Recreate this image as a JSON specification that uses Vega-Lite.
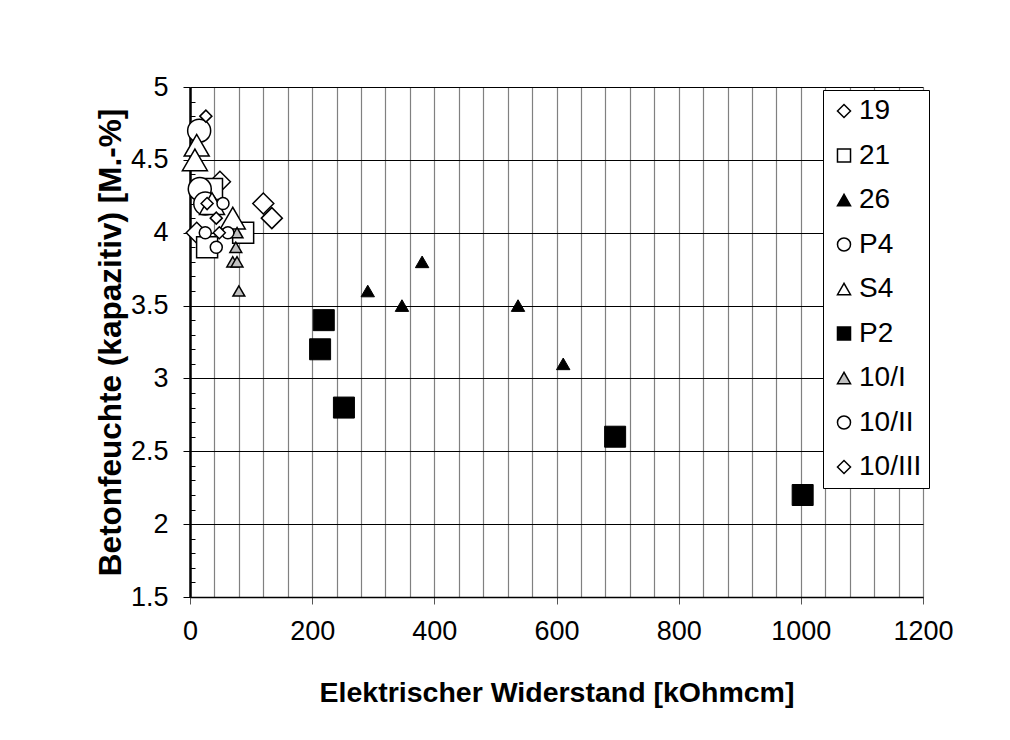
{
  "$schema": "https://vega.github.io/schema/vega-lite/v6.json",
  "width": 733,
  "height": 510,
  "autosize": "none",
  "padding": {"left": 190, "top": 87, "right": 87, "bottom": 143},
  "background": "white",
  "config": {
    "font": "Liberation Sans",
    "view": {"stroke": null},
    "legend": {
      "orient": "none",
      "legendX": 633,
      "legendY": 3,
      "strokeColor": "black",
      "fillColor": "white",
      "padding": 7,
      "labelFont": "Liberation Sans",
      "labelFontSize": 28,
      "labelColor": "black",
      "rowPadding": 16.5,
      "symbolStrokeWidth": 1.5,
      "symbolSize": 170,
      "labelOffset": 1
    }
  },
  "data": {
    "values": [
      {"Serie": "19", "R": 11, "F": 4.0},
      {"Serie": "19", "R": 49, "F": 4.35},
      {"Serie": "19", "R": 120, "F": 4.2},
      {"Serie": "19", "R": 134, "F": 4.1},
      {"Serie": "21", "R": 36, "F": 4.3},
      {"Serie": "21", "R": 28, "F": 3.9},
      {"Serie": "21", "R": 87, "F": 4.0},
      {"Serie": "26", "R": 291, "F": 3.6},
      {"Serie": "26", "R": 347, "F": 3.5},
      {"Serie": "26", "R": 380, "F": 3.8},
      {"Serie": "26", "R": 537, "F": 3.5},
      {"Serie": "26", "R": 611, "F": 3.1},
      {"Serie": "P4", "R": 15, "F": 4.7},
      {"Serie": "P4", "R": 16, "F": 4.3},
      {"Serie": "P4", "R": 25, "F": 4.2},
      {"Serie": "S4", "R": 11, "F": 4.6},
      {"Serie": "S4", "R": 8, "F": 4.5},
      {"Serie": "S4", "R": 70, "F": 4.1},
      {"Serie": "S4", "R": 36, "F": 4.2},
      {"Serie": "P2", "R": 219, "F": 3.4},
      {"Serie": "P2", "R": 213, "F": 3.2},
      {"Serie": "P2", "R": 252, "F": 2.8},
      {"Serie": "P2", "R": 696, "F": 2.6},
      {"Serie": "P2", "R": 1003, "F": 2.2},
      {"Serie": "10/I", "R": 77, "F": 4.0},
      {"Serie": "10/I", "R": 75, "F": 3.9},
      {"Serie": "10/I", "R": 70, "F": 3.8},
      {"Serie": "10/I", "R": 77, "F": 3.8},
      {"Serie": "10/I", "R": 80, "F": 3.6},
      {"Serie": "10/II", "R": 54, "F": 4.2},
      {"Serie": "10/II", "R": 25, "F": 4.0},
      {"Serie": "10/II", "R": 62, "F": 4.0},
      {"Serie": "10/II", "R": 43, "F": 3.9},
      {"Serie": "10/III", "R": 26, "F": 4.8},
      {"Serie": "10/III", "R": 28, "F": 4.2},
      {"Serie": "10/III", "R": 43, "F": 4.1},
      {"Serie": "10/III", "R": 48, "F": 4.0}
    ]
  },
  "encoding": {
    "x": {
      "field": "R",
      "type": "quantitative",
      "scale": {"domain": [0, 1200], "nice": false},
      "axis": {
        "title": "Elektrischer Widerstand [kOhmcm]",
        "titleFont": "Liberation Sans",
        "titleFontSize": 28.5,
        "titleFontWeight": "bold",
        "titleColor": "black",
        "titlePadding": 34,
        "values": [0, 40, 80, 120, 160, 200, 240, 280, 320, 360, 400, 440, 480, 520, 560, 600, 640, 680, 720, 760, 800, 840, 880, 920, 960, 1000, 1040, 1080, 1120, 1160, 1200],
        "format": "d",
        "labelExpr": "datum.value % 200 === 0 ? datum.label : ''",
        "labelFont": "Liberation Sans",
        "labelFontSize": 27,
        "labelColor": "black",
        "labelPadding": 14,
        "labelFlush": false,
        "labelOverlap": false,
        "tickSize": 7,
        "tickColor": "#555555",
        "tickOpacity": {"condition": {"test": "datum.value % 200 === 0", "value": 1}, "value": 0},
        "grid": true,
        "gridColor": "#808080",
        "gridWidth": 1.2,
        "domainColor": "black",
        "domainWidth": 1.5
      }
    },
    "y": {
      "field": "F",
      "type": "quantitative",
      "scale": {"domain": [1.5, 5], "nice": false, "zero": false},
      "axis": {
        "title": "Betonfeuchte (kapazitiv) [M.-%]",
        "titleFont": "Liberation Sans",
        "titleFontSize": 31.5,
        "titleFontWeight": "bold",
        "titleColor": "black",
        "titlePadding": 3,
        "values": [1.5, 1.6, 1.7, 1.8, 1.9, 2, 2.1, 2.2, 2.3, 2.4, 2.5, 2.6, 2.7, 2.8, 2.9, 3, 3.1, 3.2, 3.3, 3.4, 3.5, 3.6, 3.7, 3.8, 3.9, 4, 4.1, 4.2, 4.3, 4.4, 4.5, 4.6, 4.7, 4.8, 4.9, 5],
        "labelExpr": "abs(datum.value * 2 - round(datum.value * 2)) < 0.001 ? toString(round(datum.value * 10) / 10) : ''",
        "labelFont": "Liberation Sans",
        "labelFontSize": 27,
        "labelColor": "black",
        "labelPadding": 15,
        "labelFlush": false,
        "labelOverlap": false,
        "tickColor": "black",
        "tickSize": {"condition": {"test": "abs(datum.value * 2 - round(datum.value * 2)) < 0.001", "value": 7}, "value": -5},
        "grid": true,
        "gridColor": "black",
        "gridWidth": 1,
        "gridOpacity": {"condition": {"test": "abs(datum.value * 2 - round(datum.value * 2)) < 0.001", "value": 1}, "value": 0},
        "domainColor": "black",
        "domainWidth": 2.5
      }
    },
    "shape": {
      "field": "Serie",
      "type": "nominal",
      "scale": {
        "domain": ["19", "21", "26", "P4", "S4", "P2", "10/I", "10/II", "10/III"],
        "range": ["diamond", "square", "triangle-up", "circle", "triangle-up", "square", "triangle-up", "circle", "diamond"]
      },
      "legend": {"title": null}
    },
    "fill": {
      "field": "Serie",
      "type": "nominal",
      "scale": {
        "domain": ["19", "21", "26", "P4", "S4", "P2", "10/I", "10/II", "10/III"],
        "range": ["white", "white", "black", "white", "white", "black", "#c0c0c0", "white", "white"]
      },
      "legend": {"title": null}
    },
    "stroke": {
      "field": "Serie",
      "type": "nominal",
      "scale": {
        "domain": ["19", "21", "26", "P4", "S4", "P2", "10/I", "10/II", "10/III"],
        "range": ["black", "black", "black", "black", "black", "black", "black", "black", "black"]
      },
      "legend": {"title": null}
    }
  },
  "layer": [
    {"transform": [{"filter": "datum.Serie === '19'"}], "mark": {"type": "point", "filled": true, "strokeWidth": 1.5, "opacity": 1, "size": 440}},
    {"transform": [{"filter": "datum.Serie === '21'"}], "mark": {"type": "point", "filled": true, "strokeWidth": 1.5, "opacity": 1, "size": 441}},
    {"transform": [{"filter": "datum.Serie === '26'"}], "mark": {"type": "point", "filled": true, "strokeWidth": 1, "opacity": 1, "size": 180}},
    {"transform": [{"filter": "datum.Serie === 'P4'"}], "mark": {"type": "point", "filled": true, "strokeWidth": 1.5, "opacity": 1, "size": 529}},
    {"transform": [{"filter": "datum.Serie === 'S4'"}], "mark": {"type": "point", "filled": true, "strokeWidth": 1.5, "opacity": 1, "size": 625}},
    {"transform": [{"filter": "datum.Serie === 'P2'"}], "mark": {"type": "point", "filled": true, "strokeWidth": 1, "opacity": 1, "size": 441}},
    {"transform": [{"filter": "datum.Serie === '10/I'"}], "mark": {"type": "point", "filled": true, "strokeWidth": 1.5, "opacity": 1, "size": 140}},
    {"transform": [{"filter": "datum.Serie === '10/II'"}], "mark": {"type": "point", "filled": true, "strokeWidth": 1.5, "opacity": 1, "size": 144}},
    {"transform": [{"filter": "datum.Serie === '10/III'"}], "mark": {"type": "point", "filled": true, "strokeWidth": 1.5, "opacity": 1, "size": 144}}
  ]
}
